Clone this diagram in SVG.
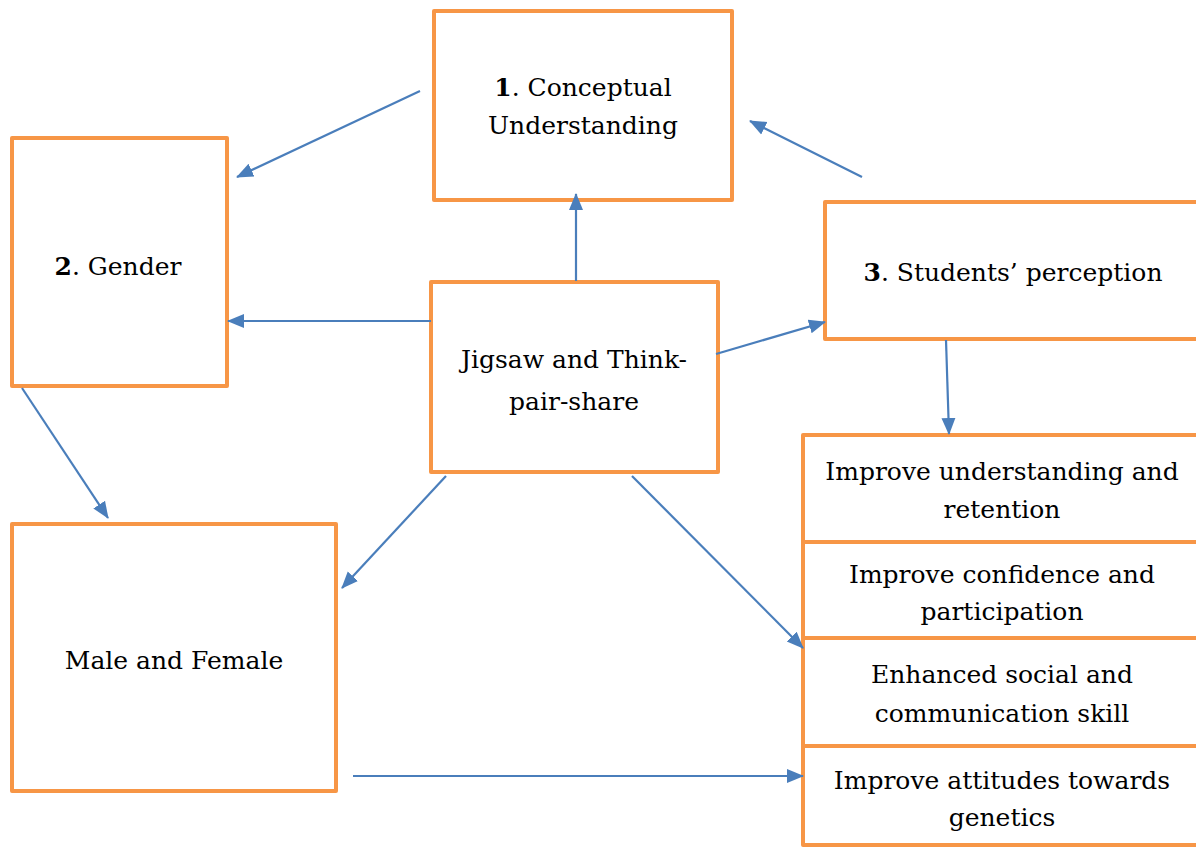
<svg xmlns="http://www.w3.org/2000/svg" width="1196" height="848" viewBox="0 0 1196 848">
<defs>
<marker id="arrow4" markerWidth="18" markerHeight="16" refX="16" refY="8" orient="auto" markerUnits="userSpaceOnUse">
<path d="M0,1 L17,8 L0,15 Z" fill="#4A7EBB"/>
</marker>
<style>
.box{fill:#FFFFFF;stroke:#F79646;stroke-width:4;stroke-linejoin:round}
.t{font-family:"DejaVu Serif",serif;font-size:25px;fill:#000000;text-anchor:middle}
.c{stroke:#4A7EBB;stroke-width:2.2;fill:none}
</style>
</defs>
<rect width="1196" height="848" fill="#FFFFFF"/>
<g id="n-conceptual">
<rect class="box" x="434" y="11" width="298" height="189"/>
<text class="t" x="583" y="96"><tspan font-weight="bold">1</tspan>. Conceptual</text>
<text class="t" x="583" y="134">Understanding</text>
</g>
<g id="n-gender">
<rect class="box" x="12" y="138" width="215" height="248"/>
<text class="t" x="118" y="275"><tspan font-weight="bold">2</tspan>. Gender</text>
</g>
<g id="n-jigsaw">
<rect class="box" x="431" y="282" width="287" height="190"/>
<text class="t" x="574" y="368">Jigsaw and Think-</text>
<text class="t" x="574" y="410">pair-share</text>
</g>
<g id="n-perception">
<rect class="box" x="825" y="202" width="376" height="137"/>
<text class="t" x="1013" y="281"><tspan font-weight="bold">3</tspan>. Students’ perception</text>
</g>
<g id="n-malefemale">
<rect class="box" x="12" y="524" width="324" height="267"/>
<text class="t" x="174" y="669">Male and Female</text>
</g>
<g id="n-understanding">
<rect class="box" x="803" y="435" width="398" height="107"/>
<text class="t" x="1002" y="480">Improve understanding and</text>
<text class="t" x="1002" y="518">retention</text>
</g>
<g id="n-confidence">
<rect class="box" x="803" y="542" width="398" height="96"/>
<text class="t" x="1002" y="583">Improve confidence and</text>
<text class="t" x="1002" y="620">participation</text>
</g>
<g id="n-social">
<rect class="box" x="803" y="638" width="398" height="108"/>
<text class="t" x="1002" y="683">Enhanced social and</text>
<text class="t" x="1002" y="722">communication skill</text>
</g>
<g id="n-attitudes">
<rect class="box" x="803" y="746" width="398" height="99"/>
<text class="t" x="1002" y="789">Improve attitudes towards</text>
<text class="t" x="1002" y="826">genetics</text>
</g>
<g id="connectors">
<line class="c" x1="420" y1="91" x2="237" y2="177" marker-end="url(#arrow4)"/>
<line class="c" x1="862" y1="177" x2="750" y2="121" marker-end="url(#arrow4)"/>
<line class="c" x1="576" y1="281" x2="576" y2="194" marker-end="url(#arrow4)"/>
<line class="c" x1="431" y1="321" x2="228" y2="321" marker-end="url(#arrow4)"/>
<line class="c" x1="716" y1="354" x2="825" y2="322" marker-end="url(#arrow4)"/>
<line class="c" x1="946" y1="340" x2="949" y2="434" marker-end="url(#arrow4)"/>
<line class="c" x1="22" y1="388" x2="108" y2="518" marker-end="url(#arrow4)"/>
<line class="c" x1="446" y1="476" x2="342" y2="588" marker-end="url(#arrow4)"/>
<line class="c" x1="632" y1="476" x2="803" y2="648" marker-end="url(#arrow4)"/>
<line class="c" x1="353" y1="776" x2="803" y2="776" marker-end="url(#arrow4)"/>
</g>
</svg>
